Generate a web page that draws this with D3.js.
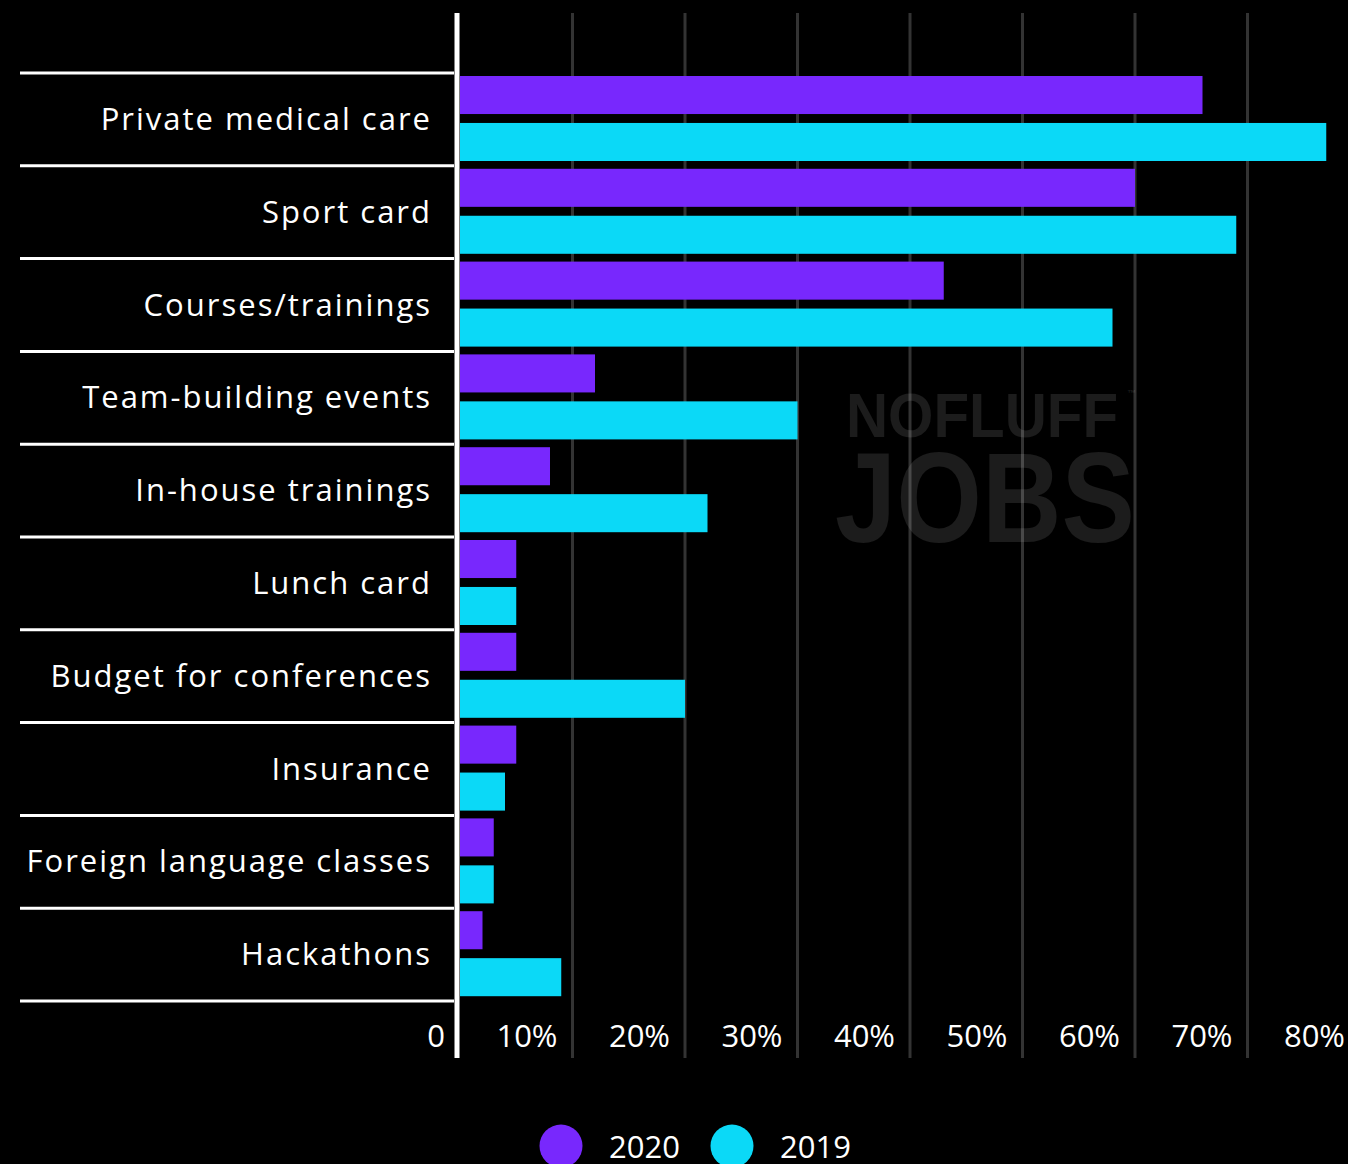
<!DOCTYPE html>
<html>
<head>
<meta charset="utf-8">
<script src="https://cdn.jsdelivr.net/npm/d3@7"></script>
<style>
  html, body { margin: 0; padding: 0; background: #000; }
  svg { display: block; }
  text { font-family: "Open Sans", "Noto Sans", sans-serif; }
</style>
</head>
<body>
<svg id="chart" width="1348" height="1164"></svg>
<script>
// Employee benefits, share of offers (%)
const categories = [
  "Private medical care",
  "Sport card",
  "Courses/trainings",
  "Team-building events",
  "In-house trainings",
  "Lunch card",
  "Budget for conferences",
  "Insurance",
  "Foreign language classes",
  "Hackathons"
];
const values2020 = [66, 60, 43, 12, 8, 5, 5, 5, 3, 2];
const values2019 = [77, 69, 58, 30, 22, 5, 20, 4, 3, 9];
const seriesNames = ["2020", "2019"];
const tickValues = [0, 10, 20, 30, 40, 50, 60, 70, 80];
const tickLabels = ["0", "10%", "20%", "30%", "40%", "50%", "60%", "70%", "80%"];

const colors = { "2020": "#7828fd", "2019": "#0bd9f7" };

const svg = d3.select("#chart");

const x = d3.scaleLinear().domain([0, 80]).range([460, 1360]);
const y = d3.scaleBand().domain(categories).range([73, 1001]).padding(0);
const ySub = d3.scaleBand().domain(seriesNames).range([3, 88]).paddingInner(0.19).paddingOuter(0);

const axisTop = 13, axisBottom = 1058;

// Watermark logo behind the plot, one text element with two lines
const wm = svg.append("text")
  .attr("fill", "#1c1c1c")
  .style("font-family", "'Liberation Sans', Arial, sans-serif")
  .style("font-weight", 700);
wm.append("tspan").attr("x", 846).attr("y", 437).attr("font-size", 63)
  .attr("textLength", 272).attr("lengthAdjust", "spacingAndGlyphs").text("NOFLUFF");
wm.append("tspan").attr("x", 1127).attr("y", 396).attr("font-size", 9).text("™");
wm.append("tspan").attr("x", 835).attr("y", 542).attr("font-size", 128)
  .attr("textLength", 300).attr("lengthAdjust", "spacingAndGlyphs").text("JOBS");

// Vertical gridlines
svg.append("g")
  .selectAll("line")
  .data(tickValues.filter(d => d > 0))
  .join("line")
  .attr("x1", d => x(d)).attr("x2", d => x(d))
  .attr("y1", axisTop).attr("y2", axisBottom)
  .attr("stroke", "#fff").attr("stroke-opacity", 0.2).attr("stroke-width", 3);

// Bars
const rows = categories.map((c, i) => ({ cat: c, vals: [
  { s: "2020", v: values2020[i] },
  { s: "2019", v: values2019[i] }
]}));

const rowG = svg.append("g").selectAll("g").data(rows).join("g")
  .attr("transform", d => `translate(0,${y(d.cat)})`);

rowG.selectAll("rect").data(d => d.vals).join("rect")
  .attr("x", x(0))
  .attr("y", d => ySub(d.s))
  .attr("width", d => x(d.v) - x(0))
  .attr("height", ySub.bandwidth())
  .attr("fill", d => colors[d.s]);

// Row separators
const seps = categories.map(c => y(c)).concat([y.range()[1]]);
svg.append("g").selectAll("line").data(seps).join("line")
  .attr("x1", 20).attr("x2", 454)
  .attr("y1", d => d).attr("y2", d => d)
  .attr("stroke", "#fff").attr("stroke-width", 3);

// Category labels
svg.append("g").selectAll("text").data(categories).join("text")
  .attr("x", 432)
  .attr("y", d => y(d) + y.bandwidth() / 2 + 10.5)
  .attr("text-anchor", "end")
  .attr("fill", "#fff")
  .attr("font-size", 31)
  .attr("letter-spacing", 2)
  .text(d => d);

// Zero axis line
svg.append("line")
  .attr("x1", 457).attr("x2", 457)
  .attr("y1", axisTop).attr("y2", axisBottom)
  .attr("stroke", "#fff").attr("stroke-width", 5);

// Tick labels, placed to the left of each gridline
svg.append("g").selectAll("text").data(tickValues).join("text")
  .attr("x", d => x(d) - 15)
  .attr("y", 1047)
  .attr("text-anchor", "end")
  .attr("fill", "#fff")
  .attr("font-size", 31)
  .text((d, i) => tickLabels[i]);

// Legend
const legendX = [561, 732];
const lg = svg.append("g").selectAll("g").data(seriesNames).join("g")
  .attr("transform", (d, i) => `translate(${legendX[i]},1146)`);
lg.append("circle").attr("r", 21.5).attr("fill", d => colors[d]);
lg.append("text").attr("x", 48).attr("y", 12).attr("fill", "#fff")
  .attr("font-size", 31).text(d => d);
</script>
</body>
</html>
